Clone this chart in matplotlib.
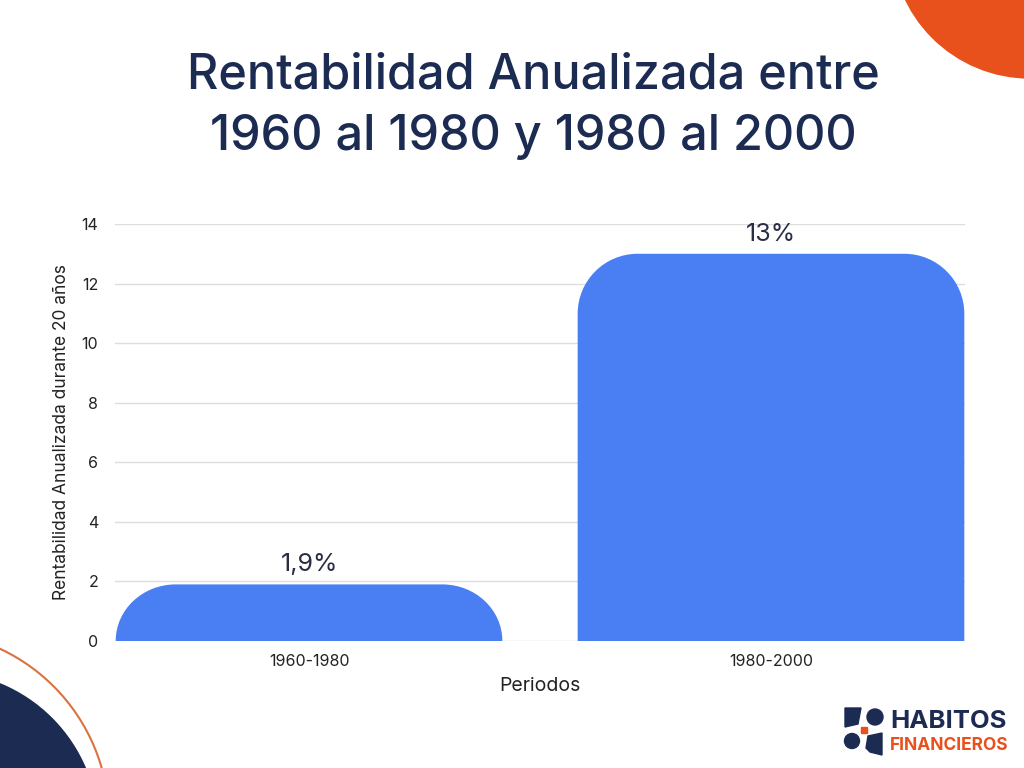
import matplotlib
matplotlib.use("Agg")
import matplotlib.pyplot as plt
from matplotlib.path import Path
from matplotlib.patches import PathPatch, Circle, Polygon
import numpy as np

# ---- data ----
periods = ["1960-1980", "1980-2000"]
returns = [1.9, 13]
value_labels = ["1,9%", "13%"]
y_ticks = [0, 2, 4, 6, 8, 10, 12, 14]
title = "Rentabilidad Anualizada entre\n1960 al 1980 y 1980 al 2000"
y_label = "Rentabilidad Anualizada durante 20 años"
x_label = "Periodos"

plt.rcParams['font.family'] = ['Inter', 'DejaVu Sans']

NAVY = "#1c2b52"
ORANGE = "#e8501c"
BLUE = "#4a7ff3"

fig = plt.figure(figsize=(10.24, 7.68), dpi=100)
W, H = 1024, 768

# background decorations (figure pixel coords)
deco = fig.add_axes([0, 0, 1, 1])
deco.set_xlim(0, W)
deco.set_ylim(H, 0)
deco.axis("off")
deco.add_patch(Circle((1030, -60), 138, color=ORANGE, zorder=1))
deco.add_patch(Circle((-60, 830), 158, color=NAVY, zorder=1))
deco.add_patch(Circle((-80, 820), 189, fill=False, ec="#d9733f", lw=1.5, zorder=1))

# logo
deco.add_patch(Polygon([(845, 708), (861, 708), (858, 724), (845, 727)], closed=True, color=NAVY))
deco.add_patch(Circle((875, 717), 8, color=NAVY))
deco.add_patch(Polygon([(861, 727), (867, 727), (867, 733), (861, 733)], closed=True, color=ORANGE))
deco.add_patch(Circle((852, 741), 7.5, color=NAVY))
deco.add_patch(Polygon([(868, 736), (882, 733), (882, 755), (870, 752), (866, 748)], closed=True, color=NAVY))
deco.text(890, 722, "HABITOS", color=NAVY, fontsize=18.5, fontweight="bold", va="center", ha="left")
deco.text(890, 746, "FINANCIEROS", color=ORANGE, fontsize=12.5, fontweight="bold", va="center", ha="left")

fig.text(533/W, 1 - 106/H, title, ha="center", va="center", fontsize=35,
         color=NAVY, linespacing=1.42, fontweight="medium")

ax = fig.add_axes([115/W, 1 - 641/H, (965 - 115)/W, (641 - 224)/H])
ax.set_facecolor("none")
x = np.arange(len(periods))
ax.set_xlim(-0.42, 1.42)
ax.set_ylim(0, 14)
ax.set_yticks(y_ticks)
ax.yaxis.grid(True, color="#dddddd", lw=1)
ax.set_axisbelow(True)
for s in ax.spines.values():
    s.set_visible(False)
ax.tick_params(length=0, labelsize=11.5, colors="#222222")
ax.tick_params(axis="y", pad=12)
ax.tick_params(axis="x", pad=9)
ax.set_xticks(x)
ax.set_xticklabels(periods)
ax.set_ylabel(y_label, fontsize=12.5, color="#222222", labelpad=8)
ax.set_xlabel(x_label, fontsize=14, color="#222222", labelpad=6)

bars = ax.bar(x, returns, width=0.837, color=BLUE)
fig.canvas.draw()
# replace bars with rounded-top shapes
r_px = 60
inv = ax.transData.inverted()
for b in bars:
    x0, y0 = b.get_x(), b.get_y()
    w, h = b.get_width(), b.get_height()
    (px0, py0) = ax.transData.transform((x0, y0))
    (px1, py1) = ax.transData.transform((x0 + w, y0 + h))
    ry = min(r_px, py1 - py0)
    rx = r_px
    k = 0.5523
    verts_px = [
        (px0, py0),
        (px0, py1 - ry),
        (px0, py1 - ry + k * ry), (px0 + rx - k * rx, py1), (px0 + rx, py1),
        (px1 - rx, py1),
        (px1 - rx + k * rx, py1), (px1, py1 - ry + k * ry), (px1, py1 - ry),
        (px1, py0),
        (px0, py0),
    ]
    codes = [Path.MOVETO, Path.LINETO, Path.CURVE4, Path.CURVE4, Path.CURVE4,
             Path.LINETO, Path.CURVE4, Path.CURVE4, Path.CURVE4, Path.LINETO, Path.CLOSEPOLY]
    verts = inv.transform(verts_px)
    b.set_visible(False)
    ax.add_patch(PathPatch(Path(verts, codes), fc=BLUE, ec="none", zorder=2))

for xi, v, lab in zip(x, returns, value_labels):
    ax.annotate(lab, (xi, v), xytext=(0, 14), textcoords="offset points",
                ha="center", va="center", fontsize=18, color="#2a2e45")

fig.savefig("out.png", dpi=100)
